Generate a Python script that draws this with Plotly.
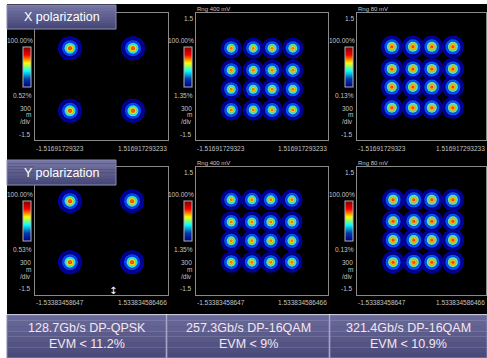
import plotly.graph_objects as go

W, H = 487, 358

# ---------------- data ----------------
panel_names = ["X-QPSK", "X-16QAM-257", "X-16QAM-321", "Y-QPSK", "Y-16QAM-257", "Y-16QAM-321"]

# constellation centres (I, Q), axis range -1.5 .. 1.5
p1_i = [-0.71, 0.71, -0.71, 0.71]
p1_q = [0.67, 0.67, -0.81, -0.81]

p2_levels_i = [-0.70, -0.20, 0.23, 0.70]
p2_levels_q = [0.67, 0.15, -0.30, -0.79]

p3_levels_i = [-0.69, -0.20, 0.24, 0.73]
p3_levels_q = [0.70, 0.18, -0.25, -0.74]

p4_i = [-0.71, 0.69, -0.71, 0.69]
p4_q = [0.70, 0.70, -0.73, -0.73]

p5_levels_i = [-0.70, -0.23, 0.20, 0.68]
p5_levels_q = [0.73, 0.21, -0.23, -0.73]

p6_levels_i = [-0.66, -0.18, 0.24, 0.73]
p6_levels_q = [0.73, 0.23, -0.21, -0.73]

x_tick_left = ["-1.51691729323", "-1.51691729323", "-1.51691729323",
               "-1.53383458647", "-1.53383458647", "-1.53383458647"]
x_tick_right = ["1.516917293233", "1.516917293233", "1.516917293233",
                "1.533834586466", "1.533834586466", "1.533834586466"]
y_tick_top = ["", "1.5", "1.5", "", "1.5", "1.5"]
y_tick_bottom = "-1.5"
scale_top = "100.00%"
scale_bottom = ["0.52%", "1.35%", "0.13%", "0.53%", "1.35%", "0.13%"]
range_labels = ["", "Rng 400 mV", "Rng 80 mV", "", "Rng 400 mV", "Rng 80 mV"]
div_label = ["300", "m", "/div"]
pol_labels = ["X polarization", "Y polarization"]
formats = ["128.7Gb/s DP-QPSK", "257.3Gb/s DP-16QAM", "321.4Gb/s DP-16QAM"]
evm = ["EVM < 11.2%", "EVM < 9%", "EVM < 10.9%"]


def grid(li, lq):
    xs, ys = [], []
    for q in lq:
        for i in li:
            xs.append(i)
            ys.append(q)
    return xs, ys


points = [
    (p1_i, p1_q),
    grid(p2_levels_i, p2_levels_q),
    grid(p3_levels_i, p3_levels_q),
    (p4_i, p4_q),
    grid(p5_levels_i, p5_levels_q),
    grid(p6_levels_i, p6_levels_q),
]

# ---------------- geometry (pixels) ----------------
col_x = [(35, 168), (196, 328), (357, 486)]
row_y = [(13, 140), (167, 295)]


def px(x):
    return x / W


def py(y):
    return 1 - y / H


FONT = "Liberation Sans, Arial, sans-serif"
LBL = "#c4c4c4"

fig = go.Figure()
layout = dict(
    width=W, height=H, margin=dict(l=0, r=0, t=0, b=0, autoexpand=False),
    paper_bgcolor="white", plot_bgcolor="black", showlegend=False,
    font=dict(family=FONT), hovermode=False,
)
shapes = []
annotations = []

# black instrument screen
shapes.append(dict(type="rect", xref="paper", yref="paper",
                   x0=px(7), x1=px(487), y0=py(314), y1=py(4),
                   fillcolor="black", line=dict(width=0), layer="below"))

# spot styles: (size, centre colour, edge colour)
qpsk_layers = [(24, "#0000b0", "#000000"), (16, "#0050ff", "#0000c0"),
               (11, "#40f0c0", "#00a0ff"), (7, "#ffd000", "#80ff40"),
               (4, "#ff2000", "#ff8000")]
qam_layers = [(21, "#0000b0", "#000000"), (14, "#0060ff", "#0000c8"),
              (9, "#60f0a0", "#00b0ff"), (5, "#ffc000", "#c0ff20"),
              (2.5, "#ff5000", "#ff9000")]
qam3_layers = [(22, "#0000b0", "#000000"), (15, "#0060ff", "#0000c8"),
               (10, "#80f080", "#00b0ff"), (6, "#ffa000", "#e0ff20"),
               (3, "#ff2000", "#ff6000")]
styles = [qpsk_layers, qam_layers, qam3_layers, qpsk_layers, qam_layers, qam3_layers]


def lab(text, x, y, xanchor="right", size=6.5, color=LBL, family=FONT):
    annotations.append(dict(text=text, x=px(x), y=py(y), xref="paper",
                            yref="paper", xanchor=xanchor, yanchor="middle",
                            showarrow=False, borderpad=0,
                            font=dict(size=size, color=color, family=family)))


for k in range(6):
    r, c = divmod(k, 3)
    x0, x1 = col_x[c]
    y0, y1 = row_y[r]
    n = k + 1
    xa = "xaxis" if n == 1 else f"xaxis{n}"
    ya = "yaxis" if n == 1 else f"yaxis{n}"
    xr = "x" if n == 1 else f"x{n}"
    yr = "y" if n == 1 else f"y{n}"
    axcommon = dict(range=[-1.5, 1.5], showgrid=False, zeroline=False,
                    showticklabels=False, ticks="", showline=True, mirror=True,
                    linecolor="#8a8a8a", linewidth=1, fixedrange=True)
    layout[xa] = dict(domain=[px(x0), px(x1)], anchor=yr, **axcommon)
    layout[ya] = dict(domain=[py(y1), py(y0)], anchor=xr, **axcommon)

    xs, ys = points[k]
    for size, cc, ec in styles[k]:
        fig.add_trace(go.Scatter(
            x=xs, y=ys, mode="markers", xaxis=xr, yaxis=yr, hoverinfo="skip",
            marker=dict(size=size, color=cc, line=dict(width=0),
                        gradient=dict(type="radial", color=ec))))

    # colour scale bar
    fig.add_trace(go.Scatter(
        x=[None], y=[None], mode="markers", xaxis=xr, yaxis=yr, hoverinfo="skip",
        marker=dict(color=[0], cmin=0, cmax=1, colorscale="Jet", showscale=True,
                    colorbar=dict(x=px(x0 - 12), xanchor="left",
                                  y=py(y0 + 34), yanchor="top",
                                  lenmode="pixels", len=40,
                                  thicknessmode="pixels", thickness=8,
                                  xpad=0, ypad=0, outlinewidth=1,
                                  outlinecolor="#b0b0b0",
                                  showticklabels=False, ticks=""))))

    if y_tick_top[k]:
        lab(y_tick_top[k], x0 - 2, y0 + 5)
    lab(scale_top, x0 - 1, y0 + 27)
    lab(scale_bottom[k], x0 - 2, y0 + 82)
    lab(div_label[0], x0 - 3, y0 + 95)
    lab(div_label[1], x0 - 3, y0 + 102)
    lab(div_label[2], x0 - 3, y0 + 109)
    lab(y_tick_bottom, x0 - 3, y0 + 121)
    lab(x_tick_left[k], x0, y0 + 135, xanchor="left")
    lab(x_tick_right[k], x1, y0 + 135, xanchor="right")
    if range_labels[k]:
        lab(range_labels[k], x0, y0 - 4, xanchor="left", size=6)

# cursor marker in lower-left panel
lab("↕", 113, 290, xanchor="center", size=10, color="white", family="DejaVu Sans")


def gradient_box(xa, xb, ya, yb, top="#7474a4", bottom="#484878", bands=8):
    def mix(a, b, t):
        a = [int(a[i:i + 2], 16) for i in (1, 3, 5)]
        b = [int(b[i:i + 2], 16) for i in (1, 3, 5)]
        return "#" + "".join(f"{int(round(a[j] + (b[j] - a[j]) * t)):02x}" for j in range(3))
    h = (yb - ya) / bands
    for i in range(bands):
        shapes.append(dict(type="rect", xref="paper", yref="paper",
                           x0=px(xa), x1=px(xb), y0=py(ya + (i + 1) * h + 0.3), y1=py(ya + i * h),
                           fillcolor=mix(top, bottom, i / (bands - 1)), line=dict(width=0),
                           layer="above"))
    shapes.append(dict(type="rect", xref="paper", yref="paper",
                       x0=px(xa), x1=px(xb), y0=py(yb), y1=py(ya),
                       fillcolor="rgba(0,0,0,0)", line=dict(width=1, color="#8888b0"),
                       layer="above"))


# polarization tabs
gradient_box(7, 116, 5, 29)
gradient_box(7, 116, 160, 185)
lab(pol_labels[0], 61.5, 17, xanchor="center", size=12.5, color="white")
lab(pol_labels[1], 61.5, 172.5, xanchor="center", size=12.5, color="white")

# bottom caption boxes
box_x = [(7, 166), (167, 329), (330, 487)]
for j, (xa, xb) in enumerate(box_x):
    gradient_box(xa, xb, 315, 358, top="#6a6a9a", bottom="#4a4a7a")
    lab(formats[j], (xa + xb) / 2, 328, xanchor="center", size=12.5, color="#f6e6ee")
    lab(evm[j], (xa + xb) / 2, 343.5, xanchor="center", size=12.5, color="#f6e6ee")

layout["shapes"] = shapes
layout["annotations"] = annotations
fig.update_layout(**layout)
fig.write_html("out.html", config={"displayModeBar": False, "staticPlot": True},
               post_script="document.body.style.margin='0px';")
